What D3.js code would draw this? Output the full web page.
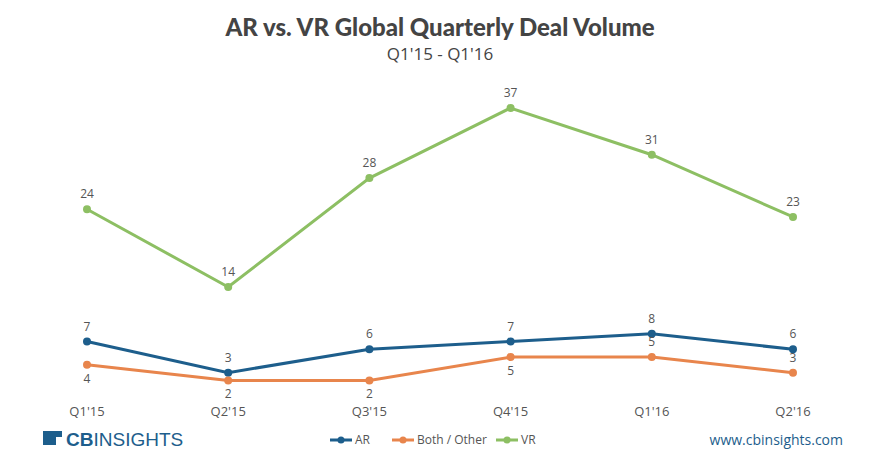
<!DOCTYPE html>
<html><head><meta charset="utf-8">
<script src="https://cdn.jsdelivr.net/npm/d3@7"></script>
<style>body{margin:0;background:#fff}</style>
</head><body><div id="canvas"></div>
<script>
"use strict"

const quarters = ["Q1'15", "Q2'15", "Q3'15", "Q4'15", "Q1'16", "Q2'16"];
const arValues = [7, 3, 6, 7, 8, 6];
const bothValues = [4, 2, 2, 5, 5, 3];
const vrValues = [24, 14, 28, 37, 31, 23];
// which value labels sit below their point (1) or above (0)
const bothLabelBelow = [1, 1, 1, 1, 0, 0];

const seriesList = [
    {name: "AR", values: arValues, color: "#1d5e8c", below: [0, 0, 0, 0, 0, 0]},
    {name: "Both / Other", values: bothValues, color: "#e8854c", below: bothLabelBelow},
    {name: "VR", values: vrValues, color: "#8dbf63", below: [0, 0, 0, 0, 0, 0]}
];

let svg = d3.select("#canvas").append("svg")
    .attr("width", 880).attr("height", 466)
    .style("font-family", "'Liberation Sans Narrow', 'Open Sans', sans-serif");

let x = d3.scalePoint().domain(quarters).range([87, 793]);
let y = d3.scaleLinear().domain([0, 37]).range([396, 108]);

svg.append("text").attr("x", 440).attr("y", 36).attr("text-anchor", "middle")
    .attr("font-size", 24).attr("font-weight", "900").attr("fill", "#444")
    .style("font-family", "Lato, sans-serif")
    .text("AR vs. VR Global Quarterly Deal Volume");
svg.append("text").attr("x", 440).attr("y", 60).attr("text-anchor", "middle")
    .attr("font-size", 17).attr("fill", "#444")
    .text("Q1'15 - Q1'16");

svg.append("g").selectAll("text").data(quarters).join("text")
    .attr("x", d => x(d)).attr("y", 416).attr("text-anchor", "middle")
    .attr("font-size", 13).attr("fill", "#555").text(d => d);

let line = d3.line().x((d, i) => x(quarters[i])).y(d => y(d));

seriesList.forEach(s => {
    let g = svg.append("g");
    g.append("path").attr("d", line(s.values)).attr("fill", "none")
        .attr("stroke", s.color).attr("stroke-width", 3);
    g.selectAll("circle").data(s.values).join("circle")
        .attr("cx", (d, i) => x(quarters[i])).attr("cy", d => y(d))
        .attr("r", 4).attr("fill", s.color);
    g.selectAll("text").data(s.values).join("text")
        .attr("x", (d, i) => x(quarters[i]))
        .attr("y", (d, i) => s.below[i] ? y(d) + 18 : y(d) - 11)
        .attr("text-anchor", "middle").attr("font-size", 12).attr("fill", "#555")
        .text(d => d);
});

// legend
let legendX = [330, 392, 496];
seriesList.forEach((s, i) => {
    let lg = svg.append("g").attr("transform", `translate(${legendX[i]},440)`);
    lg.append("line").attr("x1", 0).attr("x2", 22).attr("stroke", s.color).attr("stroke-width", 3);
    lg.append("circle").attr("cx", 11).attr("r", 3.5).attr("fill", s.color);
    lg.append("text").attr("x", 25).attr("y", 4).attr("font-size", 12).attr("fill", "#555").text(s.name);
});

// logo and url
svg.append("rect").attr("x", 43).attr("y", 431).attr("width", 13).attr("height", 14).attr("fill", "#1d5e8c");
svg.append("rect").attr("x", 56).attr("y", 431).attr("width", 6).attr("height", 6).attr("fill", "#1d5e8c");
svg.append("text").attr("x", 66).attr("y", 446).attr("font-size", 19).attr("fill", "#1d5e8c")
    .style("font-family", "'Liberation Sans Narrow', sans-serif")
    .html("<tspan font-weight='bold'>CB</tspan>INSIGHTS");
svg.append("text").attr("x", 843).attr("y", 445).attr("text-anchor", "end")
    .attr("font-size", 14).attr("fill", "#1d5e8c").text("www.cbinsights.com");
</script>
</body></html>
